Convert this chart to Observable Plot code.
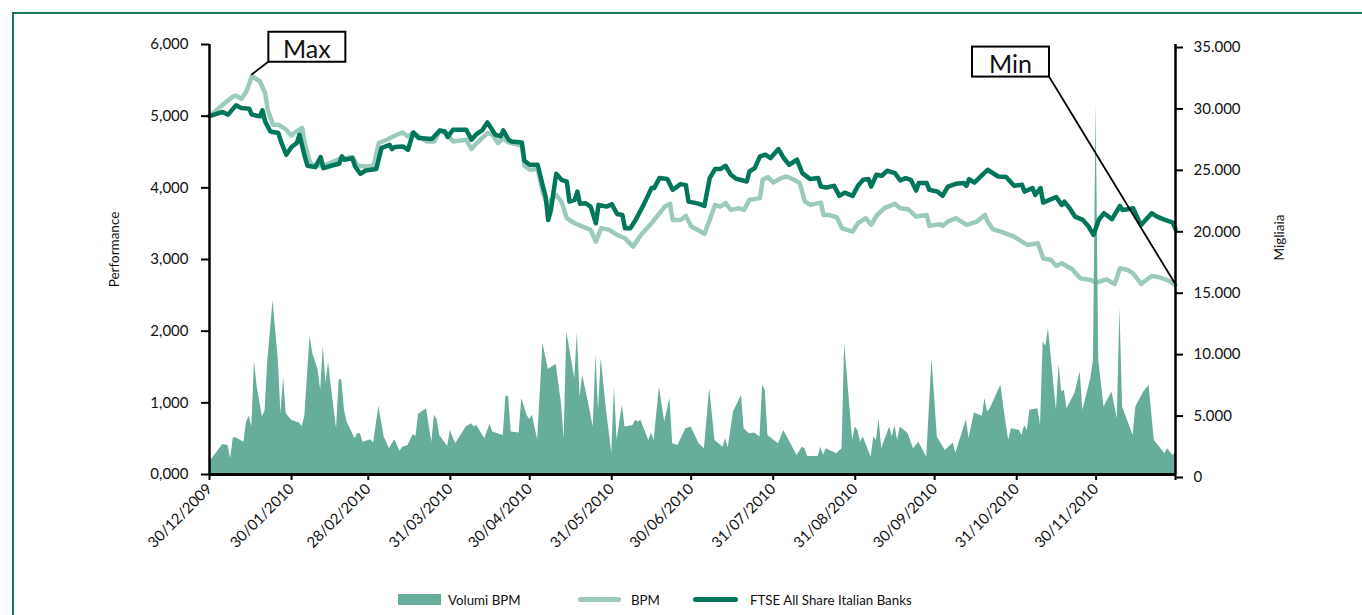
<!DOCTYPE html>
<html><head><meta charset="utf-8">
<script src="https://cdn.jsdelivr.net/npm/d3@7"></script>
<script src="https://cdn.jsdelivr.net/npm/@observablehq/plot@0.6"></script>
<style>
body{margin:0;background:#fff;width:1362px;height:615px;overflow:hidden;position:relative;font-family:Lato,sans-serif}
#frame{position:absolute;left:12px;top:12px;width:1400px;height:700px;border-left:2px solid #17785f;border-top:2px solid #17785f}
#chart{position:absolute;left:0;top:0}
.lg{position:absolute;font-size:13.3px;line-height:16px;top:592px;color:#111;white-space:nowrap}
.sw{position:absolute}
</style></head><body>
<div id="frame"></div><div id="chart"></div>
<div id="legend"></div>
<script>
// ---- data (days counted from 30/12/2009) ----
const ftseDay = [0,5,7,10,12,15,16,19,20,21,23,26,27,29,31,33,34,36,37,40,42,43,46,49,50,51,54,55,57,59,63,65,68,69,70,73,75,77,79,84,87,89,90,92,97,99,101,103,105,106,108,110,111,113,114,118,119,121,124,126,127,128,129,131,133,135,136,138,139,140,142,144,146,147,150,152,154,156,157,159,161,164,167,168,170,173,175,178,180,181,183,185,187,189,191,193,195,197,199,203,204,206,208,210,212,215,217,219,222,224,227,230,231,233,236,238,240,243,245,247,249,250,252,254,256,259,261,263,265,267,268,271,272,275,277,279,282,285,286,287,289,292,294,298,301,304,307,308,311,312,314,315,318,320,322,323,325,327,330,332,334,336,338,341,344,345,347,349,351,352,356,358,361,364,365];
const ftseVal = [5000,5059,5021,5151,5115,5105,5021,4997,5081,4927,4787,4765,4648,4462,4569,4625,4741,4438,4308,4289,4429,4275,4308,4336,4438,4392,4415,4298,4196,4242,4262,4555,4601,4541,4569,4578,4531,4773,4695,4681,4801,4787,4709,4811,4811,4671,4755,4801,4913,4857,4741,4717,4801,4671,4648,4634,4378,4322,4322,4018,3878,3552,3692,4196,4112,4088,3808,3832,3948,3776,3786,3738,3506,3762,3738,3772,3636,3622,3436,3436,3552,3762,3996,3996,4136,4122,3972,4052,4038,3808,3794,3776,3748,4136,4262,4262,4308,4182,4126,4088,4228,4275,4438,4462,4415,4541,4415,4322,4392,4205,4122,4136,4018,4004,4028,3888,3934,3888,4028,4112,4122,4018,4182,4168,4238,4205,4102,4136,4112,3962,4066,4066,3972,3948,3888,4018,4056,4066,4028,4122,4074,4182,4252,4158,4150,4028,4042,3948,3996,3902,3996,3794,3842,3870,3762,3808,3716,3599,3552,3469,3343,3552,3646,3562,3748,3692,3702,3716,3552,3482,3646,3599,3552,3515,3422];

const bpmDay = [0,5,9,10,12,14,16,19,21,22,24,26,29,31,32,35,36,38,40,44,49,54,56,59,62,64,67,70,73,75,77,82,85,87,90,92,97,99,101,105,107,109,111,113,118,119,121,124,126,128,129,131,133,135,138,141,144,146,148,151,154,157,160,163,167,169,172,174,175,178,180,182,185,187,189,191,193,195,197,200,202,204,208,209,211,213,216,218,221,223,225,227,231,232,234,237,239,243,245,248,250,252,255,259,261,264,267,271,272,276,277,279,282,286,290,293,294,296,299,304,309,313,315,318,320,322,326,329,333,335,339,342,344,347,349,352,356,359,362,365];
const bpmVal = [5000,5161,5277,5287,5240,5347,5557,5487,5324,5091,4881,4881,4811,4727,4765,4835,4625,4345,4308,4322,4401,4429,4308,4298,4308,4625,4671,4727,4773,4717,4773,4648,4648,4801,4741,4648,4671,4541,4625,4765,4741,4625,4695,4634,4587,4308,4252,4262,3926,3738,3832,3902,3808,3576,3506,3459,3413,3249,3436,3413,3343,3296,3179,3343,3506,3599,3738,3776,3552,3552,3608,3459,3403,3357,3552,3762,3738,3786,3692,3716,3692,3832,3856,4112,4150,4074,4136,4158,4112,4066,3808,3762,3794,3622,3622,3590,3436,3389,3506,3576,3482,3608,3716,3776,3716,3702,3599,3622,3469,3492,3469,3529,3576,3482,3529,3622,3529,3422,3389,3319,3203,3226,3017,2993,2909,2947,2863,2737,2713,2676,2723,2657,2877,2853,2807,2660,2769,2751,2713,2643];

// Volumi BPM, thousands of shares (Migliaia)
const volDay = [0,5,7,8,9,10,13,14,15,16,17,18,20,21,22,24,26,27,28,29,31,34,35,36,38,39,41,42,43,44,45,46,48,49,50,51,52,55,56,57,58,61,62,64,66,68,70,72,73,75,77,78,79,82,84,85,86,87,90,91,93,97,99,100,101,104,106,107,111,112,113,114,117,118,120,121,122,124,126,128,131,133,134,135,138,139,140,141,143,145,146,147,148,150,152,153,154,156,157,160,161,162,163,166,167,168,170,172,174,175,177,180,182,185,187,189,191,194,195,196,198,201,202,204,206,208,209,210,211,215,217,220,222,224,225,226,230,231,232,233,237,239,240,243,244,245,246,247,250,251,252,253,254,257,258,259,260,261,264,266,268,271,273,275,278,281,282,286,287,289,292,293,294,295,299,301,302,303,306,307,308,309,310,313,314,315,316,317,320,321,322,323,324,327,329,330,333,334,335,336,338,341,343,344,345,349,350,353,355,357,358,361,362,364,365];
const volVal = [1004,2448,2366,1281,2994,2994,2635,4267,4732,3859,9244,7123,4675,5165,9163,14140,9301,4952,7890,4952,4406,4186,3916,4675,11259,9848,8542,6854,10444,7400,9163,7180,3729,7727,7669,5222,4267,2913,3321,3321,2635,2831,2554,5548,3043,2097,2831,1901,2227,2366,3264,3100,4895,5360,2635,4814,4463,3182,2285,3590,2505,3859,4137,3859,3998,2913,4080,3451,3182,6364,6364,3451,3370,6176,4814,4463,4814,2831,10713,8542,8975,5768,2913,11610,7808,11529,6307,8077,6038,3859,9709,5222,9440,5222,1738,7123,2774,5630,3859,3998,4406,4267,4406,2774,3370,2774,7123,4267,6176,2505,2366,3729,3859,2505,2097,6992,2774,2227,2913,2178,5083,6446,3729,3321,3370,3043,7262,6854,3182,2505,3590,2366,1550,2227,2097,1469,1469,2227,1550,2097,1689,2097,10664,2774,3859,3590,2635,3043,1411,3043,2774,4545,2097,3859,3043,3998,2774,3859,3321,2097,2635,1411,9440,3043,1958,2554,1738,4463,2913,5001,4732,6176,5083,5360,7262,4137,2774,3729,3590,3182,3998,3590,5222,5360,3998,10794,10444,11887,5222,8975,6715,6854,5360,6584,8347,5222,7808,9301,30188,9301,5491,6715,4545,13519,5491,3182,5491,6715,7262,2774,2505,1689,2097,1550,1738];

const xTickDates = ["2009-12-30","2010-01-30","2010-02-28","2010-03-31","2010-04-30","2010-05-31","2010-06-30","2010-07-31","2010-08-31","2010-09-30","2010-10-31","2010-11-30","2010-12-30"];
const xTickLabels = ["30/12/2009","30/01/2010","28/02/2010","31/03/2010","30/04/2010","31/05/2010","30/06/2010","31/07/2010","31/08/2010","30/09/2010","31/10/2010","30/11/2010",""];
const leftTicks = [0,1000,2000,3000,4000,5000,6000];
const leftTickLabels = ["0,000","1,000","2,000","3,000","4,000","5,000","6,000"];
const rightTicks = [0,5000,10000,15000,20000,25000,30000,35000];
const rightTickLabels = ["0","5.000","10.000","15.000","20.000","25.000","30.000","35.000"];

const seriesNames = ["Volumi BPM","BPM","FTSE All Share Italian Banks"];
const colors = ["#66ad9b","#9ccbbd","#00775a"];

// ---- build tables ----
const start = Date.UTC(2009,11,30);
const toDate = d => new Date(start + d*864e5);
const ftse = ftseDay.map((d,i)=>({date:toDate(d), value:ftseVal[i]}));
const bpm = bpmDay.map((d,i)=>({date:toDate(d), value:bpmVal[i]}));
const vol = volDay.map((d,i)=>({date:toDate(d), value:volVal[i]}));
const K = 6000/35000; // right axis (Migliaia) onto left axis (Performance)

const bpmMax = d3.greatest(bpm, d=>d.value);
const bpmMin = d3.least(bpm, d=>d.value);
const notes = [
  {label:"Max", date:bpmMax.date, value:bpmMax.value, bx:17, by:-44, lx:17, ly:-14},
  {label:"Min", date:bpmMin.date, value:bpmMin.value, bx:-203, by:-238, lx:-126, ly:-208}
];

const chart = Plot.plot({
  width:1362, height:585,
  marginTop:44, marginBottom:111, marginLeft:209, marginRight:187,
  style:{fontFamily:"Lato, sans-serif", fontSize:"15px", background:"transparent", color:"#111"},
  x:{type:"utc", domain:[toDate(0), toDate(365)]},
  y:{domain:[0,6000]},
  marks:[
    Plot.line(bpm,{x:"date", y:"value", stroke:colors[1], strokeWidth:4.5, strokeLinejoin:"round", strokeLinecap:"round"}),
    Plot.areaY(vol,{x:"date", y:d=>d.value*K, fill:colors[0]}),
    Plot.line(ftse,{x:"date", y:"value", stroke:colors[2], strokeWidth:4.5, strokeLinejoin:"round", strokeLinecap:"round"}),
    Plot.ruleX([toDate(0), toDate(365)], {stroke:"#000", strokeWidth:2.5}),
    Plot.ruleY([0], {stroke:"#000", strokeWidth:3}),
    Plot.axisY(leftTicks, {anchor:"left", tickSize:8, tickPadding:13, strokeWidth:2, stroke:"#000", text:(d,i)=>leftTickLabels[i], label:null}),
    Plot.axisY(rightTicks, {anchor:"right", y:d=>d*K, tickSize:7, tickPadding:11, dy:3, strokeWidth:2, stroke:"#000", text:(d,i)=>rightTickLabels[i], label:null}),
    Plot.axisX(xTickDates.map(s=>new Date(s)), {tickSize:6, tickPadding:6, tickRotate:-45, strokeWidth:2, stroke:"#000", text:(d,i)=>xTickLabels[i], label:null}),
    Plot.text(["Performance"], {frameAnchor:"left", textAnchor:"middle", dx:-95, dy:-10, rotate:-90, fontSize:13.5}),
    Plot.text(["Migliaia"], {frameAnchor:"right", textAnchor:"middle", dx:104, dy:-22, rotate:-90, fontSize:13.5}),
    Plot.dot(notes, {x:"date", y:"value", render(index, scales, values) {
      const g = d3.create("svg:g");
      for (const i of index) {
        const px = values.x[i], py = values.y[i], n = notes[i];
        g.append("line").attr("x1",px).attr("y1",py-1).attr("x2",px+n.lx).attr("y2",py+n.ly)
          .attr("stroke","#000").attr("stroke-width",1.8);
        g.append("rect").attr("x",px+n.bx).attr("y",py+n.by).attr("width",77).attr("height",30)
          .attr("fill","#fff").attr("stroke","#000").attr("stroke-width",2);
        g.append("text").attr("x",px+n.bx+38.5).attr("y",py+n.by+16).attr("text-anchor","middle")
          .attr("dominant-baseline","central").attr("font-size",25).attr("fill","#111").text(n.label);
      }
      return g.node();
    }})
  ]
});
document.getElementById("chart").appendChild(chart);

// legend
const lg = document.getElementById("legend");
const items = [
  {sw:{left:398, top:594, width:43, height:11}, text:{left:448}},
  {sw:{left:578, top:597, width:43, height:5, radius:3}, text:{left:631}},
  {sw:{left:693, top:597, width:45, height:5, radius:3}, text:{left:750}}
];
items.forEach((it,i)=>{
  const s = document.createElement("div");
  s.className="sw";
  Object.assign(s.style,{left:it.sw.left+"px", top:it.sw.top+"px", width:it.sw.width+"px", height:it.sw.height+"px", background:colors[i], borderRadius:(it.sw.radius||0)+"px"});
  lg.appendChild(s);
  const t = document.createElement("div");
  t.className="lg"; t.style.left=it.text.left+"px"; t.textContent=seriesNames[i];
  lg.appendChild(t);
});
</script></body></html>
